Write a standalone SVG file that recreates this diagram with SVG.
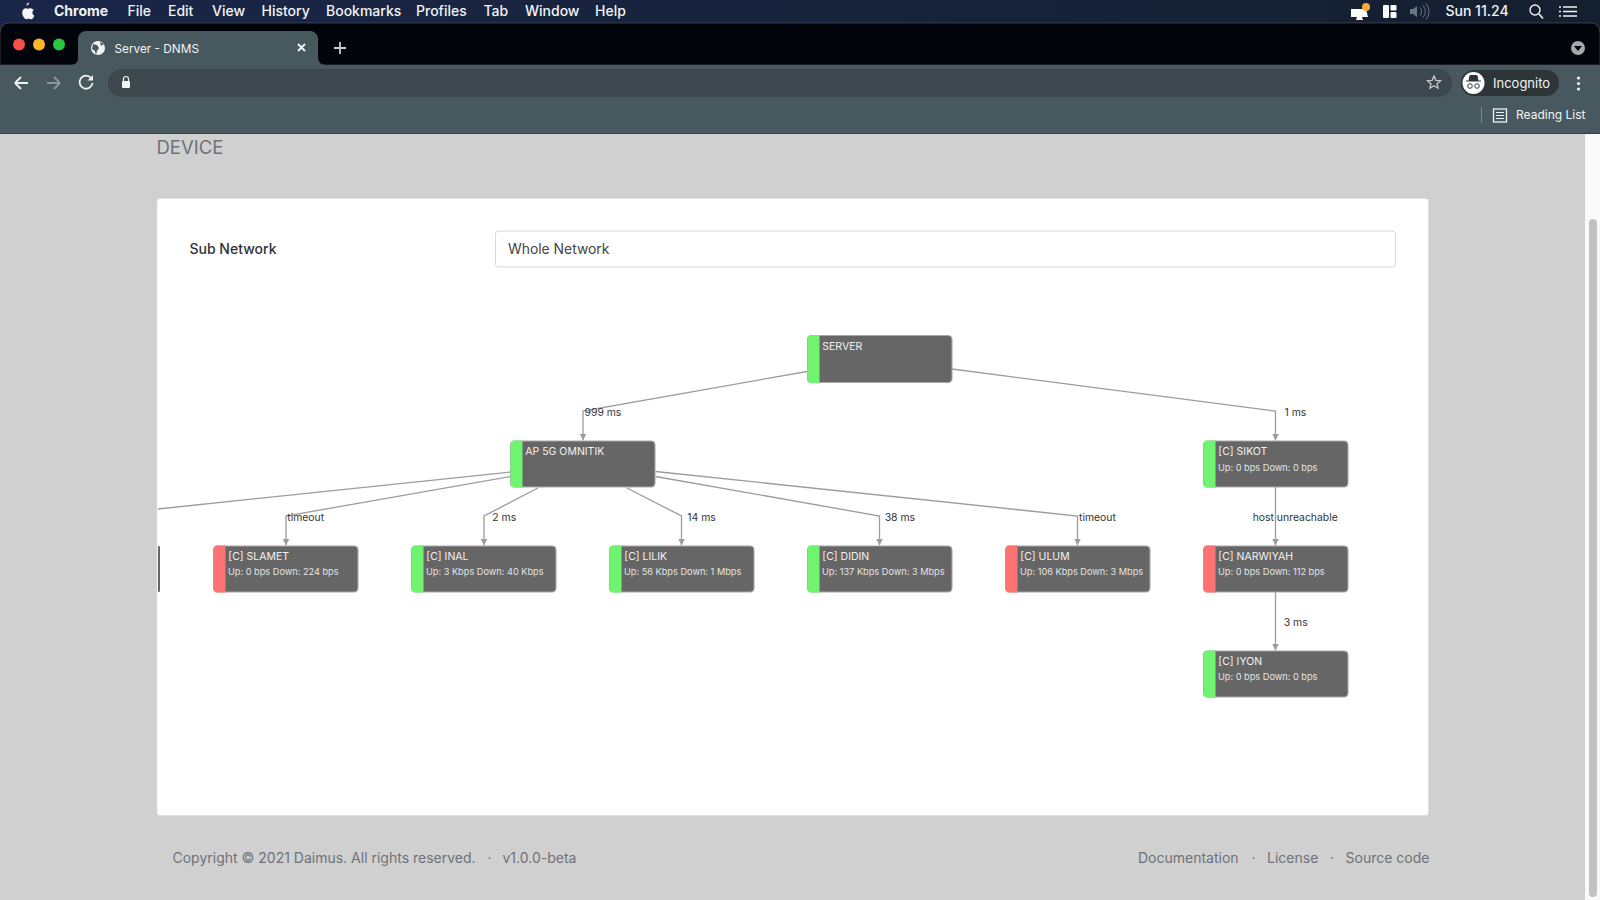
<svg xmlns="http://www.w3.org/2000/svg" width="1600" height="900" viewBox="0 0 1600 900">
<style>
text{font-family:Inter,"Liberation Sans",sans-serif}
.menu{font-size:14px;fill:#f1f3f6;font-weight:500}
.node-box{fill:#666;stroke:#a8a8a8;stroke-width:1.100}
.t{font-size:10.500px;fill:#f2f2f2}
.s{font-size:9.200px;fill:#e4e4e4}
.lbl{font-size:10.400px;fill:#333}
.edge{fill:none;stroke:#9c9c9c;stroke-width:1.300;marker-end:url(#arr)}
.foot{font-size:14px;fill:#6e7278}
.ico{fill:none;stroke:#eef1f3;stroke-width:1.800}
.up{fill:#70f470}
.down{fill:#fd7272}
</style>
<defs>
<marker id="arr" markerUnits="userSpaceOnUse" markerWidth="9" markerHeight="8" refX="7" refY="4" orient="auto"><path d="M0,.5L7,4L0,7.500Z" fill="#9c9c9c"/></marker>
<clipPath id="graphclip"><rect x="158" y="280" width="1240" height="520"/></clipPath>
<linearGradient id="menu" x1="0" x2="1" y1="0" y2="0"><stop offset="0" stop-color="#1a2648"/><stop offset="1" stop-color="#14202f"/></linearGradient>
</defs>
<rect width="1600" height="900" fill="#d0d0d0"/>
<g id="browser">
<rect width="1600" height="30" fill="url(#menu)"/>
<path d="M0,32a9,9 0 0,1 9,-9H1591a9,9 0 0,1 9,9V65H0Z" fill="#02040c" stroke="#555c60" stroke-width=".6"/>
<rect y="65" width="1600" height="69" fill="#47585f"/>
<rect y="133" width="1600" height="1" fill="#333d42"/>
<path d="M29,2.500c-1.500,.3-2.600,1.500-2.600,3c1.600,0,2.700-1.400,2.600-3zM33,9.600c-1.300-1.500-3-1.700-4-1.200c-.8,.4-1.300,.4-2.100,0c-2-.9-4.700,.6-4.700,4.200c0,3.300,2.400,6.700,3.900,6.700c1,0,1.500-.6,2.500-.6s1.500,.6,2.500,.6c1.400,0,2.600-2,3.200-3.600c-2.300-1-2.500-4.600-.3-6.100z" fill="#f4f5f7"/>
<text class="menu" x="54" y="16" style="font-weight:700">Chrome</text>
<text class="menu" x="127.500" y="16">File</text>
<text class="menu" x="168" y="16">Edit</text>
<text class="menu" x="212" y="16">View</text>
<text class="menu" x="261.500" y="16">History</text>
<text class="menu" x="326" y="16">Bookmarks</text>
<text class="menu" x="416" y="16">Profiles</text>
<text class="menu" x="483.500" y="16">Tab</text>
<text class="menu" x="525" y="16">Window</text>
<text class="menu" x="595" y="16">Help</text>
<circle cx="19" cy="44.500" r="6" fill="#f5504c"/><circle cx="39" cy="44.500" r="6" fill="#fcb428"/><circle cx="59" cy="44.500" r="6" fill="#27c840"/>
<path d="M70,65c6,0 8,-3 8,-8V39c0,-4 3,-8 8,-8H310c5,0 8,4 8,8V57c0,5 3,8 8,8Z" fill="#47585f"/>
<circle cx="98" cy="48" r="7" fill="#f2f4f5"/><path d="M93,44l4,1l2,3l-2,3l-1,4l-1,-4l-3,-2zM100,42l4,2l-3,2z" fill="#47585f"/>
<text x="114.500" y="52.500" font-size="11.800" fill="#f2f4f5">Server - DNMS</text>
<path d="M298,44l7,7M305,44l-7,7" stroke="#f2f4f5" stroke-width="1.800" fill="none"/>
<path d="M340,42v12M334,48h12" stroke="#c8cdd0" stroke-width="1.800" fill="none"/>
<circle cx="1578" cy="48" r="7" fill="#a5a9ab"/><path d="M1574,46h8l-4,5z" fill="#02040c"/>
<path d="M15,83h13M15,83l6,-6M15,83l6,6" class="ico"/>
<path d="M47,83h13M60,83l-6,-6M60,83l-6,6" class="ico" style="stroke:#8b979c"/>
<path d="M91,78a6.500,6.500 0 1,0 1.500,5" class="ico"/><path d="M93,75v5.500h-5.500z" fill="#eef1f3"/>
<rect x="108" y="69" width="1344" height="28" rx="14" fill="#3c484e"/>
<rect x="122" y="81" width="8" height="7" rx="1" fill="#f2f4f5"/><path d="M123.500,81v-2a2.500,2.500 0 0,1 5,0v2" fill="none" stroke="#f2f4f5" stroke-width="1.200"/>
<path d="M1434,76l1.900,4.300l4.600,.4l-3.500,3l1.100,4.500l-4.100,-2.400l-4.100,2.400l1.100,-4.500l-3.500,-3l4.600,-.4z" fill="none" stroke="#c5cacc" stroke-width="1.300"/>
<rect x="1461" y="70" width="98" height="26" rx="13" fill="#2e3538"/>
<circle cx="1473.500" cy="83" r="11" fill="#fff"/>
<path d="M1466,81h15M1469,80.500l1,-5h7l1,5z" fill="#2e3538" stroke="#2e3538"/><circle cx="1470" cy="86" r="2.300" fill="none" stroke="#2e3538"/><circle cx="1477" cy="86" r="2.300" fill="none" stroke="#2e3538"/>
<text x="1493" y="88" font-size="13" fill="#f2f4f5">Incognito</text>
<circle cx="1578.500" cy="78" r="1.600" fill="#f2f4f5"/><circle cx="1578.500" cy="83.500" r="1.600" fill="#f2f4f5"/><circle cx="1578.500" cy="89" r="1.600" fill="#f2f4f5"/>
<path d="M1481.500,107v16" stroke="#7a888e"/>
<rect x="1493.500" y="109" width="13" height="13" fill="none" stroke="#eef1f3" stroke-width="1.300"/><path d="M1496,112.500h8M1496,115.500h8M1496,118.500h8" stroke="#eef1f3"/>
<text x="1516" y="119" font-size="12" fill="#f2f4f5">Reading List</text>
<path d="M1351,9h15l2,8h-17zM1357,17h5l1,3h-7z" fill="#fbfbfb"/><circle cx="1366" cy="7" r="4" fill="#f5a93a"/>
<rect x="1383" y="5" width="6" height="13" rx="1" fill="#fbfbfb"/><rect x="1390.500" y="5" width="6" height="5.500" rx="1" fill="#fbfbfb"/><rect x="1390.500" y="12" width="6" height="6" rx="1" fill="#fbfbfb"/>
<path d="M1410,9h3l4,-3v11l-4,-3h-3z" fill="#6d7585"/><path d="M1420,7.500a6,6 0 0,1 0,8M1423,5.500a9,9 0 0,1 0,12M1426,3.500a12,12 0 0,1 0,16" fill="none" stroke="#6d7585"/>
<text x="1445.500" y="16" font-size="14" fill="#f1f3f6" font-weight="500">Sun 11.24</text>
<circle cx="1535" cy="10" r="5" fill="none" stroke="#f1f3f6" stroke-width="1.400"/><path d="M1539,14l4,4.500" stroke="#f1f3f6" stroke-width="1.600"/>
<path d="M1559,7h2M1559,11.500h2M1559,16h2M1563,7h14M1563,11.500h14M1563,16h14" stroke="#f1f3f6" stroke-width="1.700"/>
</g>
<rect x="1585" y="134" width="15" height="766" fill="#fafafa"/>
<rect x="1589" y="219" width="8" height="678" rx="4" fill="#c2c2c2"/>
<text x="156.500" y="154" font-size="18.500" fill="#6e7278">DEVICE</text>
<rect x="157" y="198.500" width="1271.500" height="617" rx="3" fill="#fff" stroke="#dcdcdc" stroke-width=".6"/>
<text x="189.500" y="254" font-size="14" fill="#2e3338" font-weight="450">Sub Network</text>
<rect x="495.500" y="231" width="900" height="36" rx="3" fill="#fff" stroke="#d7d9dc"/>
<text x="508" y="254" font-size="13.900" fill="#444">Whole Network</text>
<g id="connectors" clip-path="url(#graphclip)">
<path class="edge" d="M807,371.500L583,411V440.500"/>
<path class="edge" d="M952,369L1275.500,411V440.500"/>
<path d="M510.500,472L158,509" fill="none" stroke="#9c9c9c" stroke-width="1.300"/>
<path class="edge" d="M510.500,476.500L286,516V545.500"/>
<path class="edge" d="M538,488L484,516V545.500"/>
<path class="edge" d="M627,488L681.500,516V545.500"/>
<path class="edge" d="M655.500,476.500L879.500,516V545.500"/>
<path class="edge" d="M655.500,471.500L1077.500,516V545.500"/>
<path class="edge" d="M1275.500,487V545.500"/>
<path class="edge" d="M1275.500,592V650.500"/>
</g>
<g id="edge-labels">
<text class="lbl" x="584.500" y="415.500">999 ms</text>
<text class="lbl" x="1284.500" y="415.500">1 ms</text>
<text class="lbl" x="287.300" y="521">timeout</text>
<text class="lbl" x="492.300" y="521">2 ms</text>
<text class="lbl" x="687.300" y="521">14 ms</text>
<text class="lbl" x="884.700" y="521">38 ms</text>
<text class="lbl" x="1079" y="521">timeout</text>
<text class="lbl" x="1252.700" y="521">host unreachable</text>
<text class="lbl" x="1283.700" y="625.500">3 ms</text>
</g>
<g id="node-partial"><path d="M158,546h1a1.500,1.500 0 0,1 1,1.500v43a1.500,1.500 0 0,1 -1,1.500H158Z" fill="#666"/></g>
<g id="node-server"><rect class="node-box" x="807.500" y="335.500" width="144.500" height="47" rx="4"/><path class="up" d="M819.500,335h-8a4,4 0 0,0 -4,4v40a4,4 0 0,0 4,4h8z"/><text class="t" x="822.300" y="350">SERVER</text></g>
<g id="node-ap"><rect class="node-box" x="510.500" y="441" width="144.500" height="46" rx="4"/><path class="up" d="M522.500,440.500h-8a4,4 0 0,0 -4,4v39a4,4 0 0,0 4,4h8z"/><text class="t" x="525.300" y="455">AP 5G OMNITIK</text></g>
<g id="node-sikot"><rect class="node-box" x="1203.500" y="441" width="144.500" height="46" rx="4"/><path class="up" d="M1215.500,440.500h-8a4,4 0 0,0 -4,4v39a4,4 0 0,0 4,4h8z"/><text class="t" x="1218.300" y="455">[C] SIKOT</text><text class="s" x="1218" y="471">Up: 0 bps Down: 0 bps</text></g>
<g id="node-slamet"><rect class="node-box" x="213.500" y="546" width="144.500" height="46" rx="4"/><path class="down" d="M225.500,545.500h-8a4,4 0 0,0 -4,4v39a4,4 0 0,0 4,4h8z"/><text class="t" x="228.300" y="560">[C] SLAMET</text><text class="s" x="228" y="575">Up: 0 bps Down: 224 bps</text></g>
<g id="node-inal"><rect class="node-box" x="411.500" y="546" width="144.500" height="46" rx="4"/><path class="up" d="M423.500,545.500h-8a4,4 0 0,0 -4,4v39a4,4 0 0,0 4,4h8z"/><text class="t" x="426.300" y="560">[C] INAL</text><text class="s" x="426" y="575">Up: 3 Kbps Down: 40 Kbps</text></g>
<g id="node-lilik"><rect class="node-box" x="609.500" y="546" width="144.500" height="46" rx="4"/><path class="up" d="M621.500,545.500h-8a4,4 0 0,0 -4,4v39a4,4 0 0,0 4,4h8z"/><text class="t" x="624.300" y="560">[C] LILIK</text><text class="s" x="624" y="575">Up: 56 Kbps Down: 1 Mbps</text></g>
<g id="node-didin"><rect class="node-box" x="807.500" y="546" width="144.500" height="46" rx="4"/><path class="up" d="M819.500,545.500h-8a4,4 0 0,0 -4,4v39a4,4 0 0,0 4,4h8z"/><text class="t" x="822.300" y="560">[C] DIDIN</text><text class="s" x="822" y="575">Up: 137 Kbps Down: 3 Mbps</text></g>
<g id="node-ulum"><rect class="node-box" x="1005.500" y="546" width="144.500" height="46" rx="4"/><path class="down" d="M1017.500,545.500h-8a4,4 0 0,0 -4,4v39a4,4 0 0,0 4,4h8z"/><text class="t" x="1020.300" y="560">[C] ULUM</text><text class="s" x="1020" y="575">Up: 106 Kbps Down: 3 Mbps</text></g>
<g id="node-narwiyah"><rect class="node-box" x="1203.500" y="546" width="144.500" height="46" rx="4"/><path class="down" d="M1215.500,545.500h-8a4,4 0 0,0 -4,4v39a4,4 0 0,0 4,4h8z"/><text class="t" x="1218.300" y="560">[C] NARWIYAH</text><text class="s" x="1218" y="575">Up: 0 bps Down: 112 bps</text></g>
<g id="node-iyon"><rect class="node-box" x="1203.500" y="651" width="144.500" height="46" rx="4"/><path class="up" d="M1215.500,650.500h-8a4,4 0 0,0 -4,4v39a4,4 0 0,0 4,4h8z"/><text class="t" x="1218.300" y="665">[C] IYON</text><text class="s" x="1218" y="680">Up: 0 bps Down: 0 bps</text></g>
<g id="footer">
<text class="foot" x="172.500" y="863">Copyright © 2021 Daimus. All rights reserved.</text>
<text class="foot" x="487.500" y="863">·</text>
<text class="foot" x="502.500" y="863">v1.0.0-beta</text>
<text class="foot" x="1138" y="863">Documentation</text>
<text class="foot" x="1251.500" y="863">·</text>
<text class="foot" x="1267" y="863">License</text>
<text class="foot" x="1330" y="863">·</text>
<text class="foot" x="1345.500" y="863">Source code</text>
</g>
</svg>
